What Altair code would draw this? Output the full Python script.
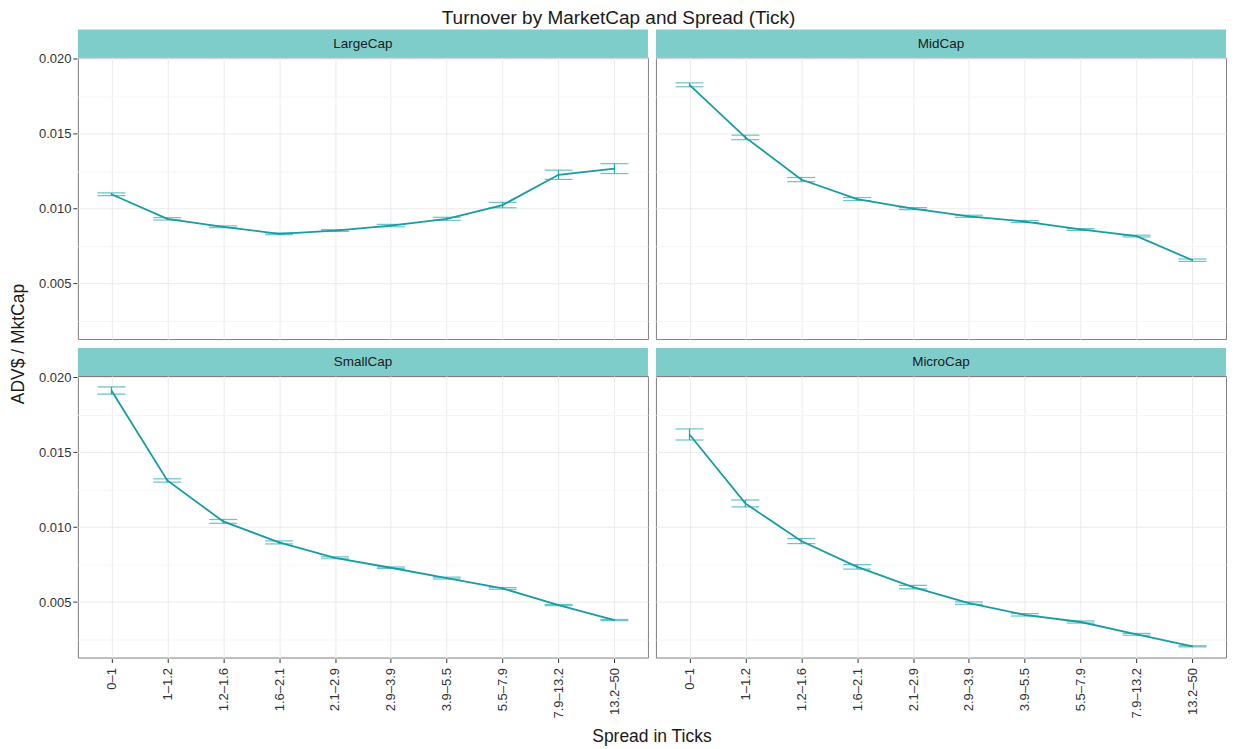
import altair as alt
import pandas as pd

spreads = ["0–1", "1–1.2", "1.2–1.6", "1.6–2.1", "2.1–2.9",
           "2.9–3.9", "3.9–5.5", "5.5–7.9", "7.9–13.2", "13.2–50"]
caps = ["LargeCap", "MidCap", "SmallCap", "MicroCap"]
cap_row = [0, 0, 1, 1]
cap_col = [0, 1, 0, 1]

large_mean = [0.01096, 0.00932, 0.00879, 0.00832, 0.00854, 0.00887, 0.00932, 0.01024, 0.01226, 0.01267]
large_err = [0.00009, 0.00008, 0.00006, 0.00006, 0.00006, 0.00008, 0.00010, 0.00018, 0.00031, 0.00033]
mid_mean = [0.01826, 0.01475, 0.01194, 0.01064, 0.01000, 0.00949, 0.00914, 0.00861, 0.00817, 0.00656]
mid_err = [0.00013, 0.00015, 0.00014, 0.00010, 0.00007, 0.00007, 0.00007, 0.00006, 0.00006, 0.00008]
small_mean = [0.01911, 0.01311, 0.01038, 0.00898, 0.00795, 0.00729, 0.00660, 0.00591, 0.00480, 0.00380]
small_err = [0.00024, 0.00011, 0.00013, 0.00010, 0.00006, 0.00005, 0.00006, 0.00006, 0.00004, 0.00004]
micro_mean = [0.01618, 0.01158, 0.00907, 0.00735, 0.00600, 0.00493, 0.00415, 0.00367, 0.00285, 0.00205]
micro_err = [0.00037, 0.00023, 0.00017, 0.00015, 0.00012, 0.00008, 0.00008, 0.00007, 0.00006, 0.00004]

y_ticks = [0.0025, 0.005, 0.0075, 0.010, 0.0125, 0.015, 0.0175, 0.020]

rows = []
for cap, r, c, means, errs in zip(caps, cap_row, cap_col,
                                  [large_mean, mid_mean, small_mean, micro_mean],
                                  [large_err, mid_err, small_err, micro_err]):
    for s, m, e in zip(spreads, means, errs):
        rows.append({"cap": cap, "r": r, "c": c, "spread": s,
                     "turnover": m, "lo": m - e, "hi": m + e})
df = pd.DataFrame(rows)

W, H = 571, 282
LINE = "#169CA4"
ERR = "#2BA9AF"
STRIP = "#7FCDCB"
FONT = "Liberation Sans"

major_test = "abs(datum.value*200 - round(datum.value*200)) < 0.01"

yscale = alt.Scale(domain=[0.0013, 0.02008], nice=False, zero=False)
yaxis = alt.Axis(
    values=y_ticks,
    labelExpr=f"{major_test} ? format(datum.value, '.3f') : ''",
    gridColor={"condition": {"test": major_test, "value": "#EBEBEB"}, "value": "#F5F5F5"},
    tickOpacity={"condition": {"test": major_test, "value": 1}, "value": 0},
)
xenc = alt.X("spread:N", sort=spreads, scale=alt.Scale(type="point", padding=0.6),
             title=None, axis=alt.Axis(labelAngle=270, labelPadding=5))

line = alt.Chart().mark_line(color=LINE, strokeWidth=1.8).encode(
    x=xenc, y=alt.Y("turnover:Q", scale=yscale, axis=yaxis, title=None))
err = alt.Chart().mark_rule(color=ERR, strokeWidth=1.2).encode(
    x=xenc, y=alt.Y("lo:Q", scale=yscale, axis=yaxis, title=None), y2="hi:Q")
cap_lo = alt.Chart().mark_tick(color=ERR, size=28, thickness=1.2).encode(
    x=xenc, y=alt.Y("lo:Q", scale=yscale, axis=yaxis, title=None))
cap_hi = alt.Chart().mark_tick(color=ERR, size=28, thickness=1.2).encode(
    x=xenc, y=alt.Y("hi:Q", scale=yscale, axis=yaxis, title=None))
strip = alt.Chart().mark_rect(color=STRIP, clip=False).encode(
    x=alt.value(0), x2=alt.value(W), y=alt.value(-28), y2=alt.value(0)
).transform_filter(alt.datum.spread == spreads[0])
strip_text = alt.Chart().mark_text(fontSize=13.5, font=FONT, color="#1a1a1a").encode(
    x=alt.value(W / 2), y=alt.value(-14), text="cap:N"
).transform_filter(alt.datum.spread == spreads[0])

chart = alt.layer(strip, strip_text, err, cap_lo, cap_hi, line).properties(
    width=W, height=H
).facet(
    row=alt.Row("r:O", title="ADV$ / MktCap",
                header=alt.Header(labels=False, labelPadding=0, titleOrient="left",
                                  titleAngle=270, titleFontSize=17.5, titleFont=FONT,
                                  titleColor="#1a1a1a", titleFontWeight="normal",
                                  titlePadding=-18)),
    column=alt.Column("c:O", title="Spread in Ticks",
                      header=alt.Header(labels=False, labelPadding=0, titleOrient="bottom",
                                        titleFontSize=17.5, titleFont=FONT, titleColor="#1a1a1a",
                                        titleFontWeight="normal", titlePadding=0)),
    spacing={"row": 7, "column": 6},
    data=df,
).properties(
    title=alt.TitleParams("Turnover by MarketCap and Spread (Tick)", fontSize=19,
                          fontWeight="normal", font=FONT, color="#1a1a1a",
                          anchor="middle", offset=1),
    padding={"left": 2, "top": 0, "right": 0, "bottom": 0},
).configure_view(
    stroke="#808080", strokeWidth=1
).configure_axis(
    labelFont=FONT, titleFont=FONT, labelFontSize=13, titleFontSize=15,
    labelColor="#333333", titleColor="#1a1a1a", titleFontWeight="normal",
    domain=False, tickColor="#333333", tickSize=4, gridColor="#EBEBEB", grid=True,
)

chart.save("out.html", embed_options={"renderer": "svg", "actions": False})
